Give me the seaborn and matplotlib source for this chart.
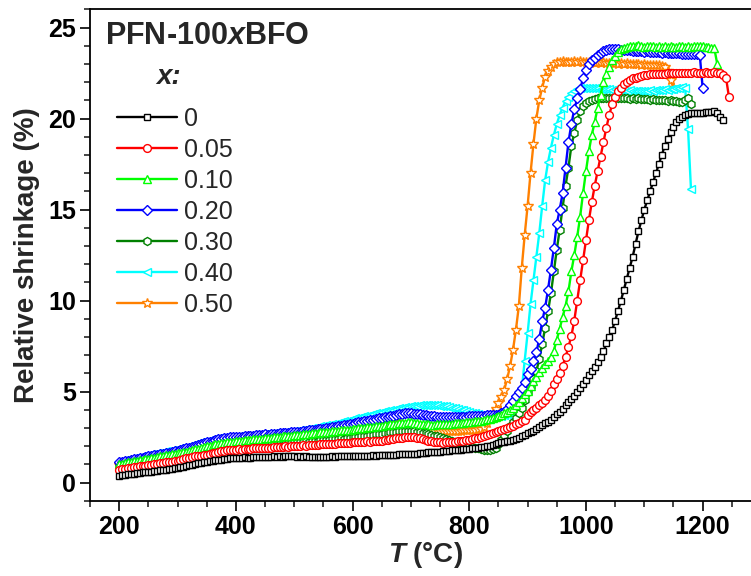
import numpy as np
import pandas as pd
import matplotlib
matplotlib.use("Agg")
import matplotlib.pyplot as plt
from matplotlib.ticker import MultipleLocator
import seaborn as sns

# ---------------- data (relative shrinkage in %, one reading every 5 degC from 200 degC) ----
T_START = 200
T_STEP = 5

labels = ["0", "0.05", "0.10", "0.20", "0.30", "0.40", "0.50"]

shrink_x000 = [
    0.35, 0.40, 0.42, 0.45, 0.47, 0.48, 0.50, 0.52, 0.55, 0.57,
    0.58, 0.60, 0.62, 0.63, 0.66, 0.68, 0.70, 0.72, 0.74, 0.77,
    0.80, 0.83, 0.86, 0.90, 0.95, 0.98, 1.02, 1.05, 1.08, 1.12,
    1.15, 1.18, 1.20, 1.22, 1.24, 1.26, 1.28, 1.30, 1.32, 1.33,
    1.35, 1.34, 1.36, 1.38, 1.36, 1.37, 1.40, 1.38, 1.39, 1.41,
    1.40, 1.42, 1.40, 1.43, 1.41, 1.44, 1.42, 1.45, 1.43, 1.44,
    1.45, 1.42, 1.44, 1.40, 1.43, 1.41, 1.39, 1.42, 1.40, 1.41,
    1.40, 1.42, 1.41, 1.43, 1.42, 1.44, 1.43, 1.45, 1.44, 1.45,
    1.45, 1.46, 1.44, 1.47, 1.46, 1.48, 1.47, 1.49, 1.48, 1.50,
    1.50, 1.51, 1.50, 1.52, 1.53, 1.52, 1.54, 1.55, 1.54, 1.56,
    1.56, 1.58, 1.59, 1.61, 1.62, 1.64, 1.65, 1.66, 1.68, 1.69,
    1.70, 1.72, 1.73, 1.75, 1.76, 1.77, 1.79, 1.80, 1.82, 1.83,
    1.85, 1.87, 1.90, 1.92, 1.95, 1.97, 2.00, 2.03, 2.07, 2.12,
    2.18, 2.22, 2.25, 2.27, 2.30, 2.33, 2.40, 2.47, 2.55, 2.62,
    2.70, 2.78, 2.85, 2.95, 3.05, 3.15, 3.25, 3.35, 3.45, 3.60,
    3.75, 3.90, 4.05, 4.25, 4.40, 4.60, 4.75, 4.95, 5.20, 5.40,
    5.65, 5.90, 6.10, 6.35, 6.60, 6.90, 7.20, 7.65, 8.00, 8.40,
    8.90, 9.45, 10.00, 10.60, 11.20, 11.80, 12.40, 13.10, 13.80, 14.40,
    15.00, 15.50, 16.00, 16.50, 17.00, 17.50, 18.00, 18.50, 18.90, 19.25,
    19.55, 19.80, 20.00, 20.10, 20.20, 20.25, 20.30, 20.28, 20.30, 20.32,
    20.30, 20.33, 20.35, 20.38, 20.40, 20.30, 20.10, 19.90,
]

shrink_x005 = [
    0.70, 0.72, 0.75, 0.78, 0.80, 0.83, 0.86, 0.88, 0.90, 0.93,
    0.95, 0.98, 1.00, 1.03, 1.05, 1.08, 1.10, 1.13, 1.15, 1.18,
    1.20, 1.24, 1.28, 1.32, 1.36, 1.40, 1.43, 1.45, 1.47, 1.49,
    1.52, 1.56, 1.60, 1.64, 1.68, 1.72, 1.74, 1.76, 1.78, 1.79,
    1.80, 1.82, 1.81, 1.84, 1.86, 1.85, 1.87, 1.88, 1.87, 1.89,
    1.90, 1.92, 1.91, 1.94, 1.93, 1.96, 1.95, 1.98, 1.97, 1.99,
    2.00, 2.02, 2.01, 2.04, 2.03, 2.06, 2.05, 2.08, 2.07, 2.09,
    2.10, 2.12, 2.11, 2.14, 2.13, 2.16, 2.15, 2.18, 2.17, 2.19,
    2.20, 2.22, 2.21, 2.24, 2.23, 2.26, 2.25, 2.28, 2.27, 2.29,
    2.30, 2.33, 2.35, 2.38, 2.40, 2.43, 2.45, 2.47, 2.48, 2.50,
    2.50, 2.48, 2.45, 2.42, 2.38, 2.34, 2.30, 2.26, 2.23, 2.21,
    2.20, 2.19, 2.20, 2.21, 2.22, 2.24, 2.26, 2.28, 2.30, 2.32,
    2.35, 2.38, 2.42, 2.46, 2.50, 2.55, 2.60, 2.65, 2.70, 2.76,
    2.82, 2.88, 2.95, 3.00, 3.06, 3.12, 3.20, 3.28, 3.36, 3.45,
    3.70, 3.85, 4.00, 4.12, 4.25, 4.38, 4.55, 4.75, 5.05, 5.40,
    5.70, 6.00, 6.40, 6.90, 7.45, 8.05, 8.90, 10.00, 11.10, 12.20,
    13.30, 14.40, 15.40, 16.30, 17.10, 17.90, 18.70, 19.50, 20.20, 20.80,
    21.20, 21.50, 21.70, 21.90, 22.00, 22.10, 22.20, 22.25, 22.30, 22.35,
    22.40, 22.40, 22.42, 22.45, 22.43, 22.45, 22.47, 22.45, 22.48, 22.50,
    22.48, 22.50, 22.52, 22.50, 22.48, 22.52, 22.50, 22.53, 22.50, 22.52,
    22.50, 22.55, 22.52, 22.50, 22.53, 22.50, 22.48, 22.40, 22.25, 21.20,
]

shrink_x010 = [
    1.00, 1.03, 1.06, 1.10, 1.13, 1.16, 1.19, 1.22, 1.25, 1.28,
    1.31, 1.34, 1.37, 1.40, 1.43, 1.46, 1.49, 1.52, 1.55, 1.58,
    1.60, 1.63, 1.67, 1.70, 1.74, 1.78, 1.82, 1.86, 1.90, 1.94,
    1.98, 2.02, 2.06, 2.10, 2.13, 2.16, 2.19, 2.21, 2.23, 2.25,
    2.27, 2.29, 2.30, 2.32, 2.34, 2.35, 2.37, 2.38, 2.40, 2.41,
    2.43, 2.45, 2.46, 2.48, 2.50, 2.51, 2.53, 2.55, 2.57, 2.58,
    2.60, 2.62, 2.63, 2.65, 2.67, 2.68, 2.70, 2.72, 2.73, 2.75,
    2.76, 2.78, 2.80, 2.81, 2.83, 2.85, 2.86, 2.88, 2.90, 2.91,
    2.93, 2.95, 2.97, 2.99, 3.01, 3.03, 3.05, 3.07, 3.09, 3.11,
    3.13, 3.15, 3.17, 3.19, 3.21, 3.23, 3.25, 3.27, 3.28, 3.30,
    3.30, 3.28, 3.26, 3.24, 3.22, 3.20, 3.19, 3.18, 3.18, 3.19,
    3.20, 3.21, 3.22, 3.23, 3.24, 3.25, 3.26, 3.27, 3.28, 3.30,
    3.32, 3.34, 3.36, 3.38, 3.40, 3.43, 3.47, 3.51, 3.56, 3.61,
    3.67, 3.73, 3.80, 3.88, 3.97, 4.10, 4.25, 4.45, 4.65, 4.85,
    5.05, 5.30, 5.55, 5.80, 6.05, 6.30, 6.50, 6.70, 6.90, 7.25,
    7.85, 8.45, 9.10, 9.70, 10.50, 11.60, 12.50, 13.50, 14.60, 15.90,
    17.10, 18.20, 19.10, 19.80, 20.60, 21.30, 22.00, 22.45, 22.85, 23.20,
    23.45, 23.65, 23.80, 23.90, 23.95, 24.00, 24.00, 23.98, 24.02, 24.00,
    23.95, 23.98, 24.00, 23.97, 23.95, 23.98, 23.93, 23.96, 23.94, 23.97,
    23.95, 23.93, 23.96, 23.98, 23.94, 23.97, 23.95, 23.99, 23.96, 24.00,
    23.97, 23.95, 23.92, 23.90, 23.85, 23.00,
]

shrink_x020 = [
    1.10, 1.14, 1.17, 1.20, 1.24, 1.27, 1.30, 1.34, 1.37, 1.40,
    1.43, 1.46, 1.49, 1.52, 1.55, 1.58, 1.61, 1.64, 1.68, 1.72,
    1.75, 1.79, 1.83, 1.87, 1.91, 1.95, 2.00, 2.05, 2.10, 2.15,
    2.20, 2.25, 2.30, 2.34, 2.38, 2.41, 2.44, 2.46, 2.48, 2.50,
    2.50, 2.52, 2.51, 2.54, 2.56, 2.55, 2.58, 2.60, 2.59, 2.62,
    2.64, 2.63, 2.66, 2.68, 2.67, 2.70, 2.72, 2.71, 2.74, 2.76,
    2.78, 2.77, 2.80, 2.82, 2.84, 2.86, 2.88, 2.90, 2.92, 2.94,
    2.96, 2.98, 3.00, 3.03, 3.06, 3.09, 3.12, 3.15, 3.18, 3.21,
    3.24, 3.27, 3.30, 3.33, 3.36, 3.39, 3.42, 3.45, 3.48, 3.52,
    3.55, 3.58, 3.62, 3.65, 3.68, 3.72, 3.75, 3.78, 3.80, 3.82,
    3.80, 3.78, 3.76, 3.74, 3.72, 3.70, 3.68, 3.66, 3.64, 3.62,
    3.61, 3.60, 3.60, 3.59, 3.58, 3.58, 3.59, 3.60, 3.61, 3.62,
    3.63, 3.64, 3.65, 3.66, 3.67, 3.68, 3.69, 3.70, 3.71, 3.72,
    3.72, 3.80, 3.90, 4.05, 4.25, 4.50, 4.75, 4.95, 5.20, 5.50,
    5.95, 6.25, 6.70, 7.15, 7.90, 8.85, 9.60, 10.60, 11.70, 12.90,
    14.20, 15.00, 15.90, 17.30, 18.70, 19.70, 20.50, 21.10, 21.60, 22.20,
    22.65, 23.00, 23.20, 23.35, 23.50, 23.60, 23.70, 23.75, 23.80, 23.80,
    23.82, 23.80, 23.78, 23.75, 23.77, 23.74, 23.72, 23.70, 23.72, 23.70,
    23.68, 23.70, 23.66, 23.65, 23.67, 23.63, 23.62, 23.64, 23.60, 23.62,
    23.60, 23.58, 23.60, 23.57, 23.55, 23.57, 23.54, 23.55, 23.52, 23.50,
    21.70,
]

shrink_x030 = [
    0.90, 0.93, 0.95, 0.98, 1.00, 1.03, 1.05, 1.08, 1.10, 1.13,
    1.15, 1.17, 1.19, 1.21, 1.23, 1.25, 1.27, 1.28, 1.30, 1.31,
    1.33, 1.36, 1.40, 1.44, 1.48, 1.52, 1.56, 1.60, 1.64, 1.68,
    1.72, 1.75, 1.78, 1.80, 1.82, 1.84, 1.86, 1.87, 1.88, 1.90,
    1.92, 1.94, 1.93, 1.96, 1.98, 1.97, 2.00, 2.02, 2.01, 2.04,
    2.06, 2.05, 2.08, 2.10, 2.09, 2.12, 2.14, 2.13, 2.16, 2.18,
    2.20, 2.22, 2.21, 2.24, 2.26, 2.25, 2.28, 2.30, 2.29, 2.32,
    2.34, 2.33, 2.36, 2.38, 2.37, 2.40, 2.42, 2.41, 2.44, 2.46,
    2.48, 2.50, 2.52, 2.54, 2.56, 2.58, 2.60, 2.62, 2.64, 2.66,
    2.68, 2.70, 2.73, 2.76, 2.78, 2.80, 2.82, 2.84, 2.85, 2.85,
    2.84, 2.82, 2.80, 2.77, 2.74, 2.70, 2.66, 2.62, 2.58, 2.54,
    2.50, 2.45, 2.40, 2.35, 2.30, 2.25, 2.20, 2.15, 2.10, 2.05,
    2.00, 1.96, 1.92, 1.88, 1.84, 1.80, 1.78, 1.78, 1.82, 1.92,
    2.10, 2.35, 2.60, 2.85, 3.10, 3.35, 3.55, 3.80, 4.10, 4.55,
    5.00, 5.30, 5.70, 6.10, 6.80, 7.60, 8.50, 9.40, 10.40, 11.60,
    12.80, 13.90, 15.10, 16.30, 17.30, 18.50, 19.20, 19.90, 20.40, 20.70,
    20.85, 20.95, 21.00, 21.05, 21.10, 21.12, 21.10, 21.14, 21.12, 21.15,
    21.12, 21.15, 21.10, 21.13, 21.10, 21.08, 21.11, 21.07, 21.10, 21.06,
    21.05, 21.08, 21.03, 21.06, 21.02, 21.04, 21.00, 21.03, 20.98, 21.00,
    20.97, 20.95, 20.93, 20.90, 21.00, 21.10, 20.80,
]

shrink_x040 = [
    1.15, 1.18, 1.22, 1.25, 1.29, 1.32, 1.36, 1.40, 1.43, 1.47,
    1.50, 1.54, 1.57, 1.61, 1.64, 1.68, 1.71, 1.74, 1.78, 1.81,
    1.84, 1.88, 1.92, 1.96, 2.00, 2.05, 2.10, 2.15, 2.20, 2.25,
    2.29, 2.33, 2.37, 2.40, 2.42, 2.44, 2.46, 2.48, 2.49, 2.50,
    2.52, 2.54, 2.53, 2.56, 2.58, 2.57, 2.60, 2.62, 2.61, 2.64,
    2.66, 2.65, 2.68, 2.70, 2.72, 2.71, 2.74, 2.76, 2.78, 2.80,
    2.82, 2.85, 2.88, 2.90, 2.93, 2.96, 2.99, 3.02, 3.05, 3.08,
    3.11, 3.14, 3.17, 3.20, 3.24, 3.28, 3.32, 3.36, 3.40, 3.44,
    3.48, 3.52, 3.56, 3.60, 3.64, 3.68, 3.72, 3.76, 3.80, 3.84,
    3.88, 3.92, 3.95, 3.98, 4.01, 4.04, 4.07, 4.10, 4.13, 4.16,
    4.18, 4.20, 4.22, 4.24, 4.25, 4.26, 4.27, 4.26, 4.25, 4.24,
    4.22, 4.20, 4.18, 4.15, 4.12, 4.08, 4.04, 4.00, 3.96, 3.92,
    3.88, 3.84, 3.80, 3.76, 3.72, 3.70, 3.68, 3.66, 3.65, 3.65,
    3.66, 3.68, 3.72, 3.78, 3.85, 3.95, 4.15, 4.50, 5.10, 6.70,
    8.20, 9.80, 11.10, 12.40, 13.70, 15.20, 16.60, 17.60, 18.40, 19.10,
    19.70, 20.20, 20.60, 20.95, 21.20, 21.40, 21.50, 21.60, 21.65, 21.70,
    21.68, 21.70, 21.66, 21.65, 21.68, 21.62, 21.64, 21.60, 21.63, 21.58,
    21.60, 21.56, 21.58, 21.55, 21.52, 21.55, 21.50, 21.53, 21.50, 21.52,
    21.50, 21.53, 21.55, 21.52, 21.56, 21.58, 21.55, 21.60, 21.58, 21.62,
    21.60, 21.65, 21.68, 21.72, 21.70, 19.40, 16.10,
]

shrink_x050 = [
    0.95, 0.98, 1.01, 1.04, 1.07, 1.10, 1.13, 1.16, 1.19, 1.22,
    1.25, 1.28, 1.31, 1.34, 1.37, 1.40, 1.43, 1.46, 1.49, 1.52,
    1.55, 1.58, 1.62, 1.66, 1.70, 1.74, 1.78, 1.82, 1.86, 1.90,
    1.94, 1.98, 2.02, 2.05, 2.08, 2.11, 2.14, 2.16, 2.18, 2.20,
    2.22, 2.24, 2.26, 2.28, 2.30, 2.32, 2.34, 2.36, 2.38, 2.40,
    2.42, 2.44, 2.46, 2.48, 2.50, 2.52, 2.54, 2.56, 2.58, 2.60,
    2.62, 2.64, 2.66, 2.68, 2.70, 2.72, 2.74, 2.76, 2.78, 2.80,
    2.83, 2.86, 2.89, 2.92, 2.95, 2.98, 3.01, 3.04, 3.07, 3.10,
    3.13, 3.16, 3.19, 3.22, 3.26, 3.30, 3.34, 3.38, 3.42, 3.46,
    3.50, 3.52, 3.50, 3.46, 3.40, 3.34, 3.28, 3.22, 3.16, 3.10,
    3.05, 3.01, 2.98, 2.95, 2.93, 2.91, 2.89, 2.88, 2.87, 2.86,
    2.85, 2.85, 2.84, 2.84, 2.85, 2.85, 2.84, 2.85, 2.86, 2.86,
    2.87, 2.88, 2.90, 2.92, 2.95, 3.05, 3.25, 3.50, 3.80, 4.05,
    4.35, 4.70, 5.10, 5.70, 6.40, 7.30, 8.40, 9.70, 11.80, 13.60,
    15.20, 17.00, 18.60, 20.00, 21.00, 21.70, 22.30, 22.60, 22.85, 23.00,
    23.10, 23.12, 23.15, 23.10, 23.13, 23.10, 23.14, 23.12, 23.15, 23.10,
    23.12, 23.08, 23.10, 23.06, 23.09, 23.05, 23.08, 23.04, 23.06, 23.03,
    23.05, 23.02, 23.04, 23.00, 23.03, 22.98, 23.00, 22.97, 22.99, 22.95,
    22.97, 22.94, 22.96, 22.93, 22.95, 22.92, 22.90, 22.85, 22.60, 22.10,
    21.70,
]

series = [shrink_x000, shrink_x005, shrink_x010, shrink_x020,
          shrink_x030, shrink_x040, shrink_x050]

colors = ["#000000", "#ff0000", "#00ff00", "#0000ff", "#008000", "#00ffff", "#ff8000"]
markers = ["s", "o", "^", "D", "h", "<", "*"]
msizes = [5.0, 5.6, 6.0, 4.8, 5.8, 6.0, 7.2]

# ---------------- style ----------------
sns.set_style("ticks")
plt.rcParams["font.family"] = ["Liberation Sans", "DejaVu Sans"]
plt.rcParams["mathtext.fontset"] = "custom"
plt.rcParams["mathtext.it"] = "Liberation Sans:italic:bold"
plt.rcParams["mathtext.rm"] = "Liberation Sans:bold"
plt.rcParams["mathtext.bf"] = "Liberation Sans:bold"

fig = plt.figure(figsize=(7.51, 5.76), dpi=100)
ax = fig.add_axes([90 / 751, 75.3 / 576, 671 / 751, 491.4 / 576])

handles = [None] * len(series)
for i in reversed(range(len(series))):
    vals = series[i]
    temps = T_START + T_STEP * np.arange(len(vals))
    df = pd.DataFrame({"T": temps, "shrink": vals})
    sns.lineplot(data=df, x="T", y="shrink", ax=ax, color=colors[i],
                 marker=markers[i], markersize=msizes[i],
                 markerfacecolor="white", markeredgecolor=colors[i],
                 markeredgewidth=1.0, linewidth=1.7,
                 estimator=None, sort=False, legend=False)
    handles[i] = ax.lines[-1]

ax.set_xlim(150, 1300)
ax.set_ylim(-1, 26)
ax.set_xticks([200, 400, 600, 800, 1000, 1200])
ax.set_yticks([0, 5, 10, 15, 20, 25])
ax.xaxis.set_minor_locator(MultipleLocator(50))
ax.yaxis.set_minor_locator(MultipleLocator(1))
ax.tick_params(which="major", direction="out", length=7, width=1.2,
               labelsize=18, pad=3, colors="black", top=False, right=False)
ax.tick_params(which="minor", direction="out", length=4, width=1.2,
               top=False, right=False)
for lbl in ax.get_xticklabels() + ax.get_yticklabels():
    lbl.set_fontweight("bold")

for sp in ax.spines.values():
    sp.set_linewidth(1.3)
    sp.set_color("black")

ax.set_xlabel("$\\mathit{T}$ (°C)", fontsize=20, fontweight="bold", labelpad=1)
ax.set_ylabel("Relative shrinkage (%)", fontsize=20, fontweight="bold", labelpad=6)

ax.text(0.022, 0.929, "PFN-100$\\mathit{x}$BFO", transform=ax.transAxes,
        fontsize=22, fontweight="bold", ha="left", va="baseline")

# legend heading
ax.text(0.098, 0.862, "x:", transform=ax.transAxes, fontsize=20,
        fontweight="bold", fontstyle="italic", ha="left", va="center")

leg = ax.legend(handles=handles, labels=labels, loc="upper left",
                bbox_to_anchor=(0.040, 0.801), frameon=False, fontsize=18,
                handlelength=2.4, handletextpad=0.3, labelspacing=0.28,
                borderpad=0, borderaxespad=0, numpoints=1)

fig.savefig("out.png", dpi=100)
